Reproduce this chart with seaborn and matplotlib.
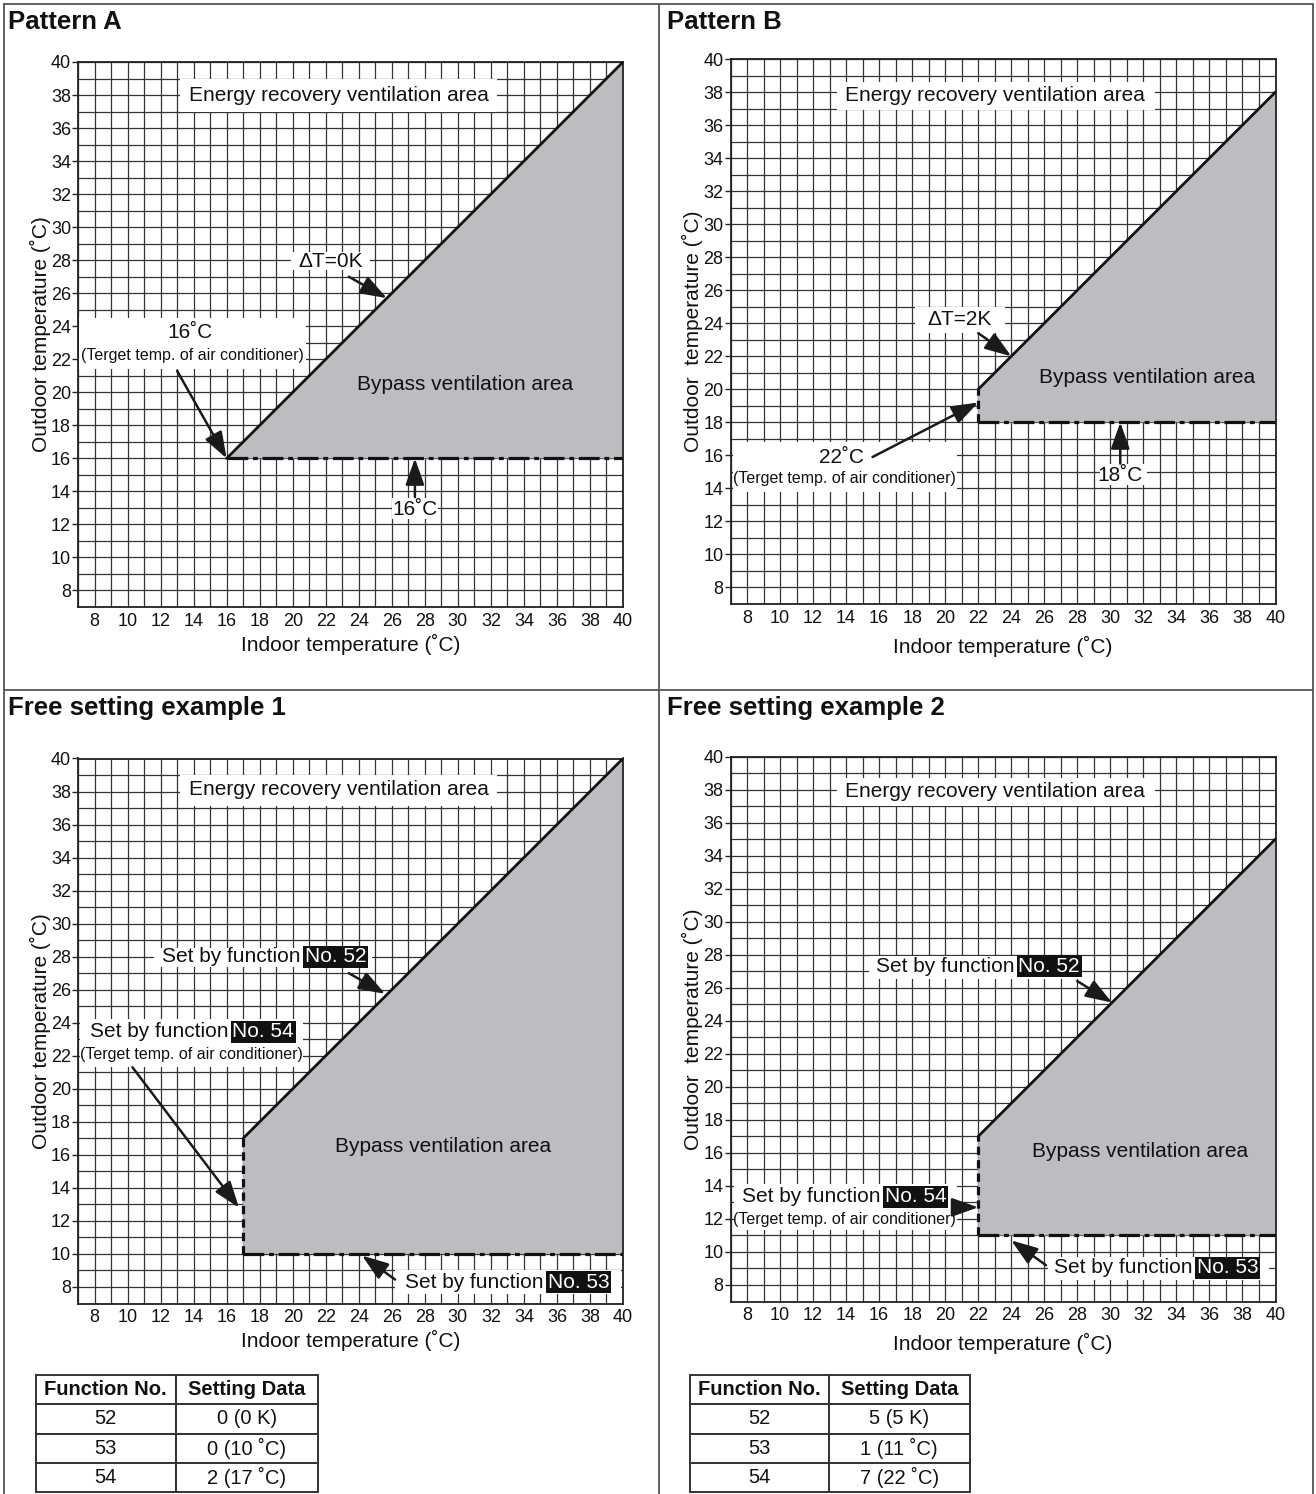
import matplotlib
matplotlib.use("Agg")
import numpy as np
import pandas as pd
import seaborn as sns
import matplotlib.pyplot as plt
from matplotlib.lines import Line2D
from matplotlib.patches import Rectangle

# ---- values ----
titles = ["Pattern A", "Pattern B", "Free setting example 1", "Free setting example 2"]
target_temp = [16, 22, 17, 22]   # indoor temp where bypass area starts (˚C)
lower_limit = [16, 18, 10, 11]   # outdoor lower limit of bypass (˚C)
delta_t = [0, 2, 0, 5]           # ΔT (K)
t_min, t_max = 7, 40
tick_vals = list(range(8, 41, 2))

table_cols = ["Function No.", "Setting Data"]
func_no = ["52", "53", "54"]
setting_ex1 = ["0 (0 K)", "0 (10 ˚C)", "2 (17 ˚C)"]
setting_ex2 = ["5 (5 K)", "1 (11 ˚C)", "7 (22 ˚C)"]

W, H = 1316, 1494
FILL = "#bcbdc0"
GRID = "#333333"
FS = 15        # main text size
FS_SMALL = 11.5
FS_TICK = 13

sns.set_theme(style="white")
plt.rcParams["font.family"] = ["Liberation Sans", "DejaVu Sans"]

fig = plt.figure(figsize=(W / 100, H / 100), dpi=100)


def px_axes(left, top, w, h):
    return fig.add_axes([left / W, 1 - (top + h) / H, w / W, h / H])


# axes placement (pixels): left, top
axes_px = [(78, 62), (730.5, 59), (78, 758.5), (730.5, 756.5)]
side = 545
xlabel_pad = [3, 7, 3, 6.5]
ylabel_txt = ["Outdoor temperature (˚C)", "Outdoor  temperature (˚C)",
              "Outdoor temperature (˚C)", "Outdoor  temperature (˚C)"]

# annotation layout per panel (data coords)
boxes = [
    [(13.2, 32.4, 37.0, 39.0), (19.9, 24.7, 27.4, 28.5), (7.05, 20.8, 21.4, 24.5), (26.0, 28.8, 12.3, 13.6)],
    [(13.45, 32.7, 36.9, 38.6), (18.2, 23.6, 23.4, 25.0), (7.15, 20.7, 13.8, 16.8), (29.4, 32.2, 14.2, 15.5)],
    [(13.2, 32.4, 37.1, 39.0), (11.6, 24.8, 27.4, 28.5), (7.1, 20.6, 21.3, 24.2), (26.2, 39.9, 7.6, 9.0)],
    [(13.45, 32.7, 37.0, 38.7), (15.4, 28.3, 26.5, 27.9), (7.2, 20.7, 11.3, 14.1), (26.2, 39.6, 8.3, 9.7)],
]
texts = [
    [("Energy recovery ventilation area", 22.8, 38.0), ("ΔT=0K", 22.3, 27.95), ("16˚C", 13.8, 23.6),
     ("Bypass ventilation area", 30.45, 20.45), ("16˚C", 27.4, 12.9)],
    [("Energy recovery ventilation area", 23.0, 37.8), ("ΔT=2K", 20.9, 24.2), ("22˚C", 13.7, 15.9),
     ("Bypass ventilation area", 32.2, 20.7), ("18˚C", 30.6, 14.8)],
    [("Energy recovery ventilation area", 22.8, 38.1), ("Bypass ventilation area", 29.1, 16.5)],
    [("Energy recovery ventilation area", 23.0, 37.9), ("Bypass ventilation area", 31.8, 16.1)],
]
target_note = [(13.9, 22.2), (13.9, 14.6), (13.85, 22.06), (13.9, 11.94)]
func_labels = [
    [],
    [],
    [("No. 52", 12.1, 28.0), ("No. 54", 7.7, 23.45), ("No. 53", 26.8, 8.3)],
    [("No. 52", 15.8, 27.3), ("No. 54", 7.7, 13.33), ("No. 53", 26.6, 9.03)],
]
arrows = [
    [((23.4, 27.0), (25.7, 25.7)), ((13.0, 21.3), (16.0, 16.0)), ((27.4, 13.65), (27.4, 16.0))],
    [((22.0, 23.4), (24.0, 22.0)), ((15.6, 15.9), (22.0, 19.2)), ((30.6, 15.5), (30.6, 18.0))],
    [((23.4, 27.0), (25.6, 25.75)), ((10.3, 21.3), (16.75, 12.8)), ((26.2, 8.45), (24.2, 9.9))],
    [((28.0, 26.4), (30.1, 25.1)), ((20.7, 12.7), (22.0, 12.7)), ((26.1, 9.2), (24.0, 10.7))],
]

arrow_style = dict(arrowstyle="-|>,head_length=0.9,head_width=0.32", color="k", lw=1.8,
                   mutation_scale=18, shrinkA=0, shrinkB=0)

for i in range(4):
    ax = px_axes(axes_px[i][0], axes_px[i][1], side, side)
    x0 = target_temp[i]
    d = delta_t[i]
    lo = lower_limit[i]

    # bypass area
    ax.fill([x0, x0, t_max, t_max], [lo, x0 - d, t_max - d, lo], color=FILL, lw=0, zorder=1.5)

    diag = pd.DataFrame({"indoor": [x0, t_max], "outdoor": [x0 - d, t_max - d]})
    floor = pd.DataFrame({"indoor": [x0, t_max], "outdoor": [lo, lo]})
    sns.lineplot(data=diag, x="indoor", y="outdoor", estimator=None, sort=False,
                 color="#111111", lw=2.0, ax=ax, zorder=3)
    sns.lineplot(data=floor, x="indoor", y="outdoor", estimator=None, sort=False,
                 color="#111111", lw=2.3, ax=ax, zorder=3, linestyle=(0, (6.5, 1.5, 1.5, 1.5)))
    if x0 - d > lo:
        step = pd.DataFrame({"indoor": [x0, x0], "outdoor": [lo, x0 - d]})
        sns.lineplot(data=step, x="indoor", y="outdoor", estimator=None, sort=False,
                     color="#111111", lw=2.3, ax=ax, zorder=3, linestyle=(0, (2.6, 1.6)))

    # grid and axes
    ax.set_xlim(t_min, t_max)
    ax.set_ylim(t_min, t_max)
    ax.set_xticks(tick_vals)
    ax.set_yticks(tick_vals)
    ax.set_xticks(np.arange(t_min, t_max + 1), minor=True)
    ax.set_yticks(np.arange(t_min, t_max + 1), minor=True)
    ax.grid(which="both", color=GRID, lw=0.9)
    ax.set_axisbelow(True)
    ax.tick_params(axis="x", which="both", length=0, pad=4, labelsize=FS_TICK, labelcolor="#111")
    ax.tick_params(axis="y", which="major", length=4, width=1, direction="out", pad=1,
                   labelsize=FS_TICK, labelcolor="#111", left=True, color="#222")
    ax.tick_params(axis="y", which="minor", length=0)
    for s in ax.spines.values():
        s.set_color("#222222")
        s.set_linewidth(1.3)
    ax.set_xlabel("Indoor temperature (˚C)", fontsize=FS, labelpad=xlabel_pad[i], color="#111")
    ax.set_ylabel(ylabel_txt[i], fontsize=FS, labelpad=0, color="#111")

    # white label boxes
    for (bx0, bx1, by0, by1) in boxes[i]:
        ax.add_patch(Rectangle((bx0, by0), bx1 - bx0, by1 - by0, fc="white", ec="none", zorder=2))

    for (txt, tx, ty) in texts[i]:
        ax.text(tx, ty, txt, ha="center", va="center", fontsize=FS, color="#111", zorder=4)

    nx, ny = target_note[i]
    ax.text(nx, ny, "(Terget temp. of air conditioner)", ha="center", va="center",
            fontsize=FS_SMALL, color="#111", zorder=4)

    for (num, fx, fy) in func_labels[i]:
        t = ax.text(fx, fy, "Set by function", ha="left", va="center", fontsize=FS,
                    color="#111", zorder=4)
        ax.annotate(num, xy=(1, 0.5), xycoords=t, xytext=(3, 0), textcoords="offset points",
                    ha="left", va="center", fontsize=FS, color="white", zorder=4,
                    bbox=dict(fc="#111111", ec="none", pad=1.2))

    for (start, tip) in arrows[i]:
        ax.annotate("", xy=tip, xytext=start, arrowprops=arrow_style, zorder=5)

# panel titles
title_px = [(8, 22), (667, 22), (8, 708), (667, 708)]
for (tx, ty), title in zip(title_px, titles):
    fig.text(tx / W, 1 - ty / H, title, ha="left", va="center", fontsize=18.5,
             fontweight="bold", color="#111")

# setting tables
table_px = [(36, 1375, 282, 117, setting_ex1), (690, 1375, 280, 117, setting_ex2)]
for (lx, ty, tw, th, settings) in table_px:
    tax = px_axes(lx, ty, tw, th)
    tax.axis("off")
    cells = [[f, s] for f, s in zip(func_no, settings)]
    tbl = tax.table(cellText=cells, colLabels=table_cols, cellLoc="center",
                    bbox=[0, 0, 1, 1], colWidths=[0.495, 0.505])
    tbl.auto_set_font_size(False)
    for (r, c), cell in tbl.get_celld().items():
        cell.set_edgecolor("#333333")
        cell.set_linewidth(1.4)
        cell.get_text().set_fontsize(14.5)
        cell.get_text().set_color("#111")
        if r == 0:
            cell.get_text().set_fontweight("bold")

# frame lines around the four cells
frame = [((4, 4), (1313, 4)), ((4, 4), (4, 1494)), ((1313, 4), (1313, 1494)),
         ((659, 4), (659, 1494)), ((4, 690), (1313, 690))]
for (xa, ya), (xb, yb) in frame:
    fig.add_artist(Line2D([xa / W, xb / W], [1 - ya / H, 1 - yb / H], transform=fig.transFigure,
                          color="#555555", lw=1.3))

fig.savefig("out.png", dpi=100)
